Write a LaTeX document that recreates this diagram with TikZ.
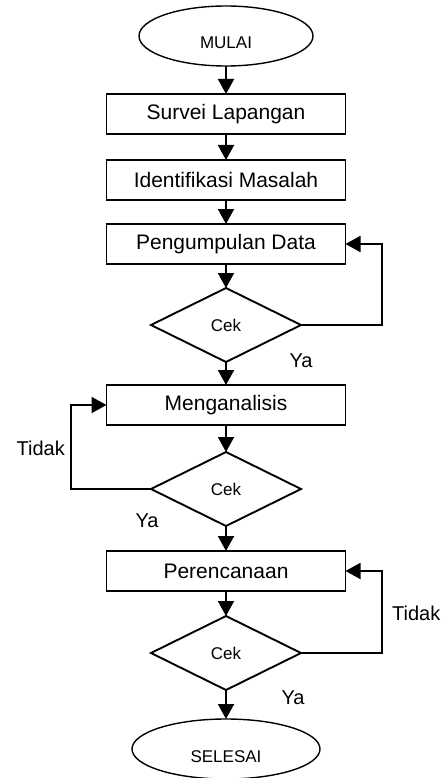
\documentclass[tikz,border=0pt]{standalone}
\usepackage{fontspec}
\setmainfont{Liberation Sans}
\usetikzlibrary{shapes.geometric, arrows.meta, positioning}
\tikzset{
  terminal/.style={ellipse, draw=black, line width=1.4pt, outer sep=0pt, minimum width=178pt, minimum height=60pt, text height=26pt, text depth=0pt, font=\fontsize{17}{20}\selectfont},
  process/.style={rectangle, draw=black, line width=1.9pt, outer sep=0pt, minimum width=239pt, minimum height=40pt, align=center, font=\fontsize{21}{25}\selectfont},
  decision/.style={diamond, draw=black, line width=1.9pt, outer sep=0pt, minimum width=150pt, minimum height=74pt, inner sep=1pt, font=\fontsize{17}{20}\selectfont},
  lbl/.style={inner sep=0pt, font=\fontsize{20}{24}\selectfont},
  arrow/.style={-{Triangle[length=15pt, width=16pt]}, line width=1.9pt},
}
\begin{document}
\begin{tikzpicture}[x=1pt, y=-1pt]
\useasboundingbox (0,0) rectangle (444,778);
\node[terminal, minimum width=174pt] (mulai) at (226,36) {MULAI};
\node[process, below=28pt of mulai] (survei) {Survei Lapangan};
\node[process, below=26pt of survei] (identifikasi) {Identifikasi Masalah};
\node[process, below=24pt of identifikasi] (kumpul) {Pengumpulan Data};
\node[decision, below=24pt of kumpul] (cek1) {Cek};
\node[process, below=23pt of cek1] (analisis) {Menganalisis};
\node[decision, below=27pt of analisis] (cek2) {Cek};
\node[process, below=25pt of cek2] (rencana) {Perencanaan};
\node[decision, below=25pt of rencana] (cek3) {Cek};
\node[terminal, minimum width=188pt, below=29pt of cek3] (selesai) {SELESAI};
% alur utama
\draw[arrow] (mulai) -- (survei);
\draw[arrow] (survei) -- (identifikasi);
\draw[arrow] (identifikasi) -- (kumpul);
\draw[arrow] (kumpul) -- (cek1);
\draw[arrow] (cek1) -- (analisis);
\draw[arrow] (analisis) -- (cek2);
\draw[arrow] (cek2) -- (rencana);
\draw[arrow] (rencana) -- (cek3);
\draw[arrow] (cek3) -- (selesai);
% umpan balik
\draw[arrow] (cek1.east) -- ++(81,0) |- (kumpul.east);
\draw[arrow] (cek2.west) -- ++(-80,0) |- (analisis.west);
\draw[arrow] (cek3.east) -- ++(81,0) |- (rencana.east);
% label
\node[lbl] (ya1) at ([yshift=-36pt]cek1.east) {Ya};
\node[lbl, anchor=east] (tidak1) at ([xshift=-86pt, yshift=41pt]cek2.west) {Tidak};
\node[lbl] (ya2) at ([xshift=-4pt, yshift=-32pt]cek2.west) {Ya};
\node[lbl, anchor=west] (tidak2) at ([xshift=91pt, yshift=40pt]cek3.east) {Tidak};
\node[lbl] (ya3) at ([xshift=-8pt, yshift=-45pt]cek3.east) {Ya};
\end{tikzpicture}
\end{document}
